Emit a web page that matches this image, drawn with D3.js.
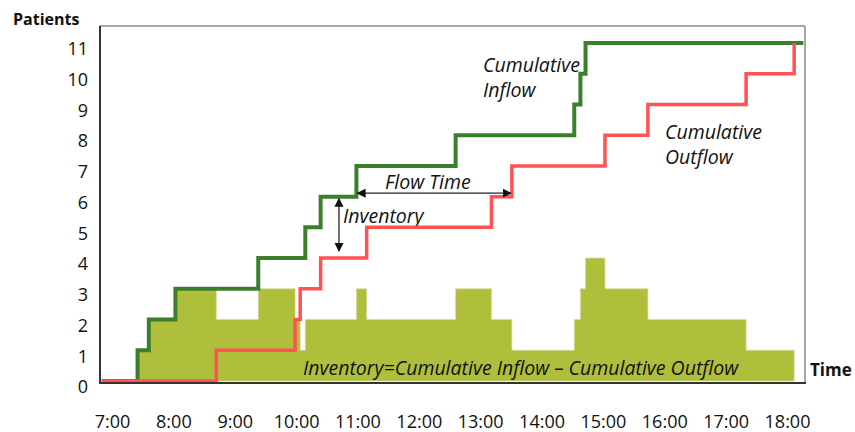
<!DOCTYPE html>
<html>
<head>
<meta charset="utf-8">
<script src="https://cdn.jsdelivr.net/npm/d3@7"></script>
<style>
  html, body { margin: 0; padding: 0; background: #fff; }
  svg { display: block; font-family: "Open Sans", "DejaVu Sans", sans-serif; }
</style>
</head>
<body>
<svg id="chart" width="855" height="432"></svg>
<script>
// Arrival times of patients (cumulative inflow steps up by one at each)
const inflowTimes = ["7:25", "7:36", "8:02", "9:23", "10:09", "10:24", "10:59", "12:36", "14:32", "14:38", "14:43"];
// Departure times of patients (cumulative outflow steps up by one at each)
const outflowTimes = ["8:42", "9:59", "10:04", "10:24", "11:09", "13:11", "13:31", "15:02", "15:44", "17:20", "18:07"];
const startTime = "6:50";
const endTime = "18:16";
const xTickLabels = ["7:00", "8:00", "9:00", "10:00", "11:00", "12:00", "13:00", "14:00", "15:00", "16:00", "17:00", "18:00"];
const yTicks = [0, 1, 2, 3, 4, 5, 6, 7, 8, 9, 10, 11];

const toHours = s => { const [h, m] = s.split(":").map(Number); return h + m / 60; };

const svg = d3.select("#chart");

const x = d3.scaleLinear().domain([7, 18]).range([112, 787]);
const y = d3.scaleLinear().domain([0, 11]).range([381, 43]);

const colGreen = "#3b7f2d", colRed = "#ff5252", colFill = "#afbf3b";

// Cumulative step series
const t0 = toHours(startTime), t1 = toHours(endTime);
const inPts = [[t0, 0]].concat(inflowTimes.map((t, i) => [toHours(t), i + 1]));
inPts.push([t1, inflowTimes.length]);
const outPts = [[t0, 0]].concat(outflowTimes.map((t, i) => [toHours(t), i + 1]));

// Inventory = cumulative inflow - cumulative outflow, piecewise constant
const cumAt = (times, t) => times.filter(s => toHours(s) <= t + 1e-9).length;
const breaks = Array.from(new Set(inflowTimes.concat(outflowTimes).map(toHours))).sort((a, b) => a - b);
const invPts = breaks.map(t => [t, cumAt(inflowTimes, t) - cumAt(outflowTimes, t)]);

// Plot frame
svg.append("line").attr("x1", 100).attr("x2", 805).attr("y1", 26).attr("y2", 26)
  .attr("stroke", "#8a8a8a").attr("stroke-width", 1.5);
svg.append("line").attr("x1", 805).attr("x2", 805).attr("y1", 26).attr("y2", 383)
  .attr("stroke", "#8a8a8a").attr("stroke-width", 1.5);

// Inventory area
const area = d3.area().x(d => x(d[0])).y0(y(0)).y1(d => y(d[1])).curve(d3.curveStepAfter);
svg.append("path").datum(invPts).attr("d", area)
  .attr("fill", colFill).attr("stroke", "#d3dc9c").attr("stroke-width", 0.8);

// Annotation text sitting beneath the lines
svg.append("text").attr("x", 343).attr("y", 223)
  .attr("font-size", 19.5).attr("font-style", "italic").attr("fill", "#111").text("Inventory");

const line = d3.line().x(d => x(d[0])).y(d => y(d[1])).curve(d3.curveStepAfter);
svg.append("path").datum(inPts).attr("d", line)
  .attr("fill", "none").attr("stroke", colGreen).attr("stroke-width", 4);
svg.append("path").datum(outPts).attr("d", line)
  .attr("fill", "none").attr("stroke", colRed).attr("stroke-width", 3.5);

// Axes lines (left and bottom)
svg.append("line").attr("x1", 100).attr("x2", 100).attr("y1", 26).attr("y2", 384)
  .attr("stroke", "#333").attr("stroke-width", 2);
svg.append("line").attr("x1", 99).attr("x2", 806).attr("y1", 383).attr("y2", 383)
  .attr("stroke", "#333").attr("stroke-width", 2);

// Tick labels
const yAxis = svg.append("g").attr("transform", "translate(92,6)")
  .call(d3.axisLeft(y).tickValues(yTicks).tickSize(0).tickPadding(4));
yAxis.select(".domain").remove();
yAxis.selectAll("text").attr("font-size", 18).attr("font-family", "Open Sans, sans-serif").attr("fill", "#111");

const xAxis = svg.append("g").attr("transform", "translate(0,410)")
  .call(d3.axisBottom(x).tickValues(xTickLabels.map(toHours)).tickSize(0).tickPadding(5)
    .tickFormat((d, i) => xTickLabels[i]));
xAxis.select(".domain").remove();
xAxis.selectAll("text").attr("font-size", 18).attr("font-family", "Open Sans, sans-serif").attr("fill", "#111");

// Axis titles
svg.append("text").attr("x", 13).attr("y", 25).attr("font-size", 16).attr("font-weight", "bold")
  .attr("fill", "#111").text("Patients");
svg.append("text").attr("x", 810).attr("y", 376).attr("font-size", 17).attr("font-weight", "bold")
  .attr("fill", "#111").text("Time");

// Arrow markers
const defs = svg.append("defs");
defs.append("marker").attr("id", "ah").attr("viewBox", "0 0 10 10").attr("refX", 9).attr("refY", 5)
  .attr("markerWidth", 7).attr("markerHeight", 7).attr("orient", "auto-start-reverse")
  .append("path").attr("d", "M0,0 L10,5 L0,10 Z").attr("fill", "#111");

// Flow time arrow between inflow and outflow of the 7th patient
svg.append("line").attr("x1", x(toHours(inflowTimes[6])) + 1).attr("x2", x(toHours(outflowTimes[6])) - 1)
  .attr("y1", y(6) - 3.5).attr("y2", y(6) - 3.5)
  .attr("stroke", "#222").attr("stroke-width", 1.3)
  .attr("marker-start", "url(#ah)").attr("marker-end", "url(#ah)");
svg.append("text").attr("x", 385).attr("y", 189)
  .attr("font-size", 19.5).attr("font-style", "italic").attr("fill", "#111").text("Flow Time");

// Inventory arrow
svg.append("line").attr("x1", 339).attr("x2", 339).attr("y1", y(6) + 2).attr("y2", y(4) - 7)
  .attr("stroke", "#222").attr("stroke-width", 1.3)
  .attr("marker-start", "url(#ah)").attr("marker-end", "url(#ah)");

// Series labels
const lbl = (lines, x0, y0) => {
  const t = svg.append("text").attr("x", x0).attr("y", y0).attr("font-size", 19.5)
    .attr("font-style", "italic").attr("fill", "#111");
  lines.forEach((s, i) => t.append("tspan").attr("x", x0).attr("dy", i ? 24.5 : 0).text(s));
};
lbl(["Cumulative", "Inflow"], 483, 72);
lbl(["Cumulative", "Outflow"], 665, 139);

svg.append("text").attr("x", 303).attr("y", 375)
  .attr("font-size", 19.5).attr("font-style", "italic").attr("fill", "#111")
  .text("Inventory=Cumulative Inflow \u2013 Cumulative Outflow");
</script>
</body>
</html>
